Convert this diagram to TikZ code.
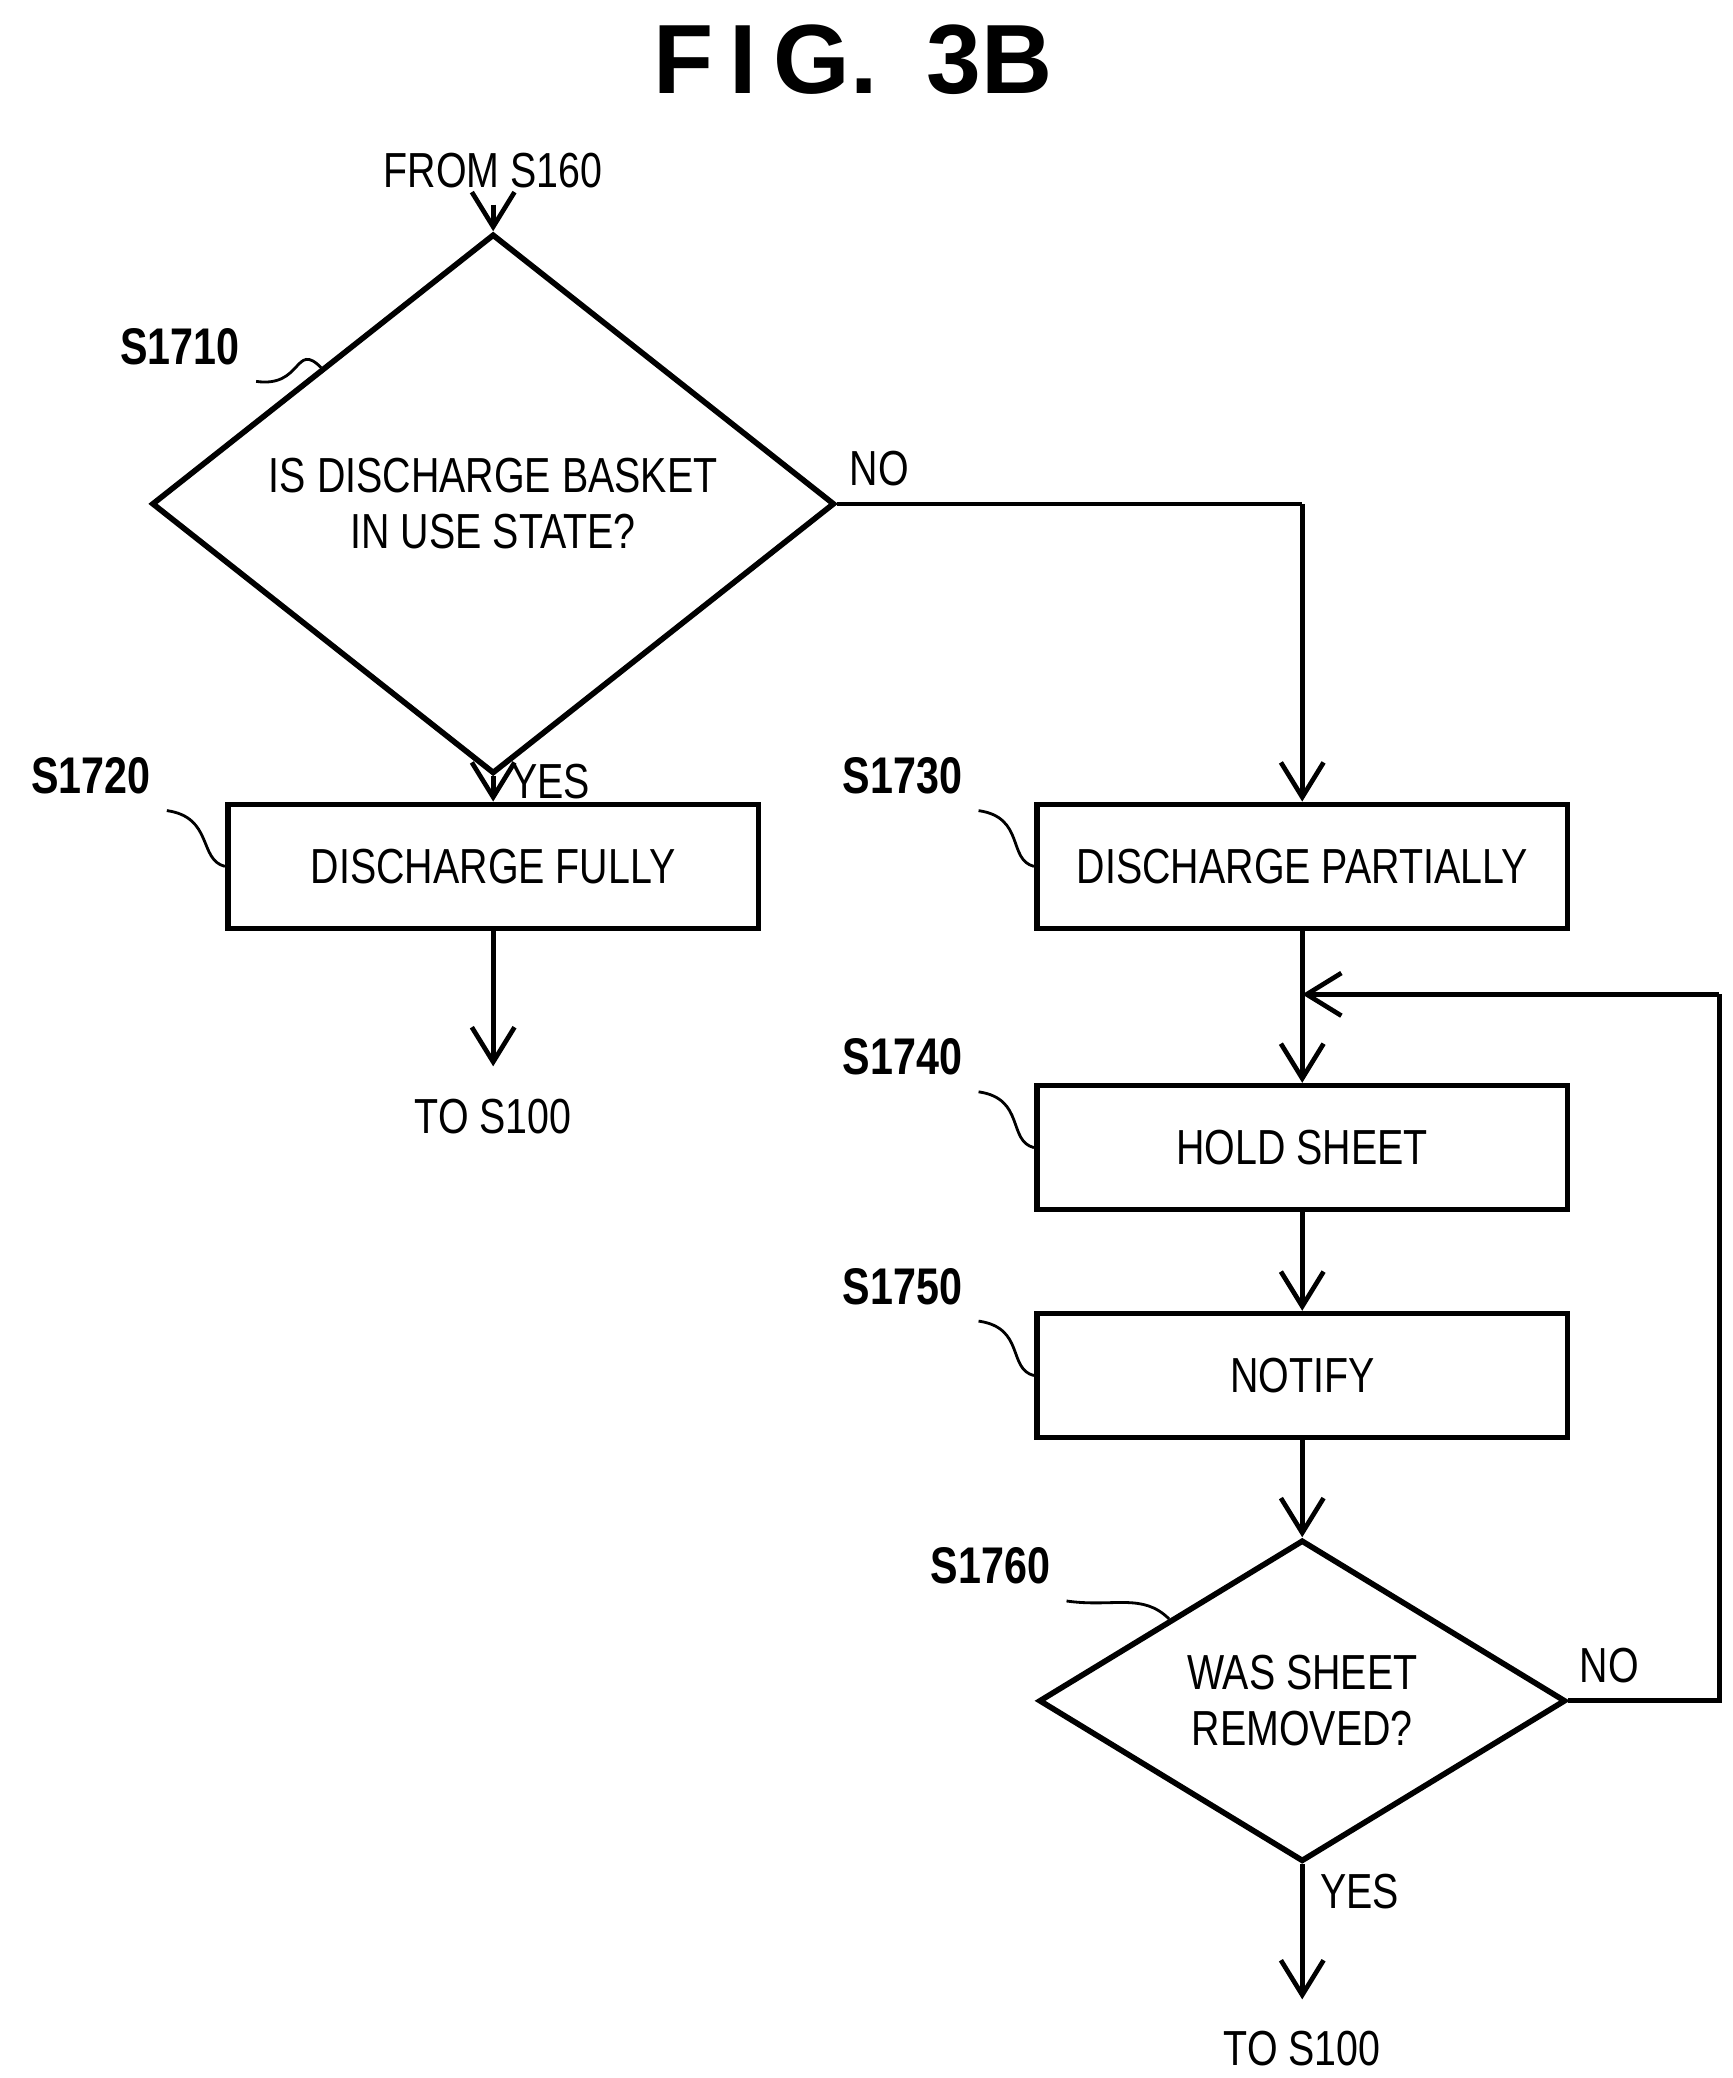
\documentclass[tikz,border=0pt]{standalone}
\usepackage{fontspec}
\setmainfont{Liberation Sans}[FakeStretch=0.8]
\newfontfamily\titlefont{Liberation Sans}
\usetikzlibrary{shapes.geometric,arrows.meta,positioning}
\tikzset{
  block/.style={rectangle, draw, line width=1.2pt, minimum width=3.98cm, minimum height=0.93cm, font=\fontsize{10.5}{12}\selectfont},
  decision/.style={diamond, draw, line width=1.2pt, inner sep=0pt, align=center, font=\fontsize{10.5}{12}\selectfont},
  line/.style={draw, line width=1pt, -{Straight Barb[length=2.6mm,width=3.2mm]}},
  plain/.style={draw, line width=1pt},
  steplabel/.style={font=\bfseries\fontsize{11}{12}\selectfont},
  txt/.style={font=\fontsize{10.5}{12}\selectfont},
  squig/.style={draw, line width=0.6pt}
}
\begin{document}
\begin{tikzpicture}[x=0.01cm, y=-0.01cm]
    \useasboundingbox (0,0) rectangle (1300,1559);
    \node [font=\titlefont\bfseries\fontsize{21}{24}\selectfont] (title) at (640,45) {F\,I\,G.\enspace 3B};
    \node [txt] (from) at (370,128) {FROM S160};
    \node [decision, minimum width=5.12cm, minimum height=2.34cm] (basket) at (370,378) {IS DISCHARGE BASKET\\IN USE STATE?};
    \node [block] (fully) at (370,650) {DISCHARGE FULLY};
    \node [txt] (to1) at (370,838) {TO S100};
    \node [block] (partial) at (977,650) {DISCHARGE PARTIALLY};
    \node [block] (hold) at (977,861) {HOLD SHEET};
    \node [block] (notify) at (977,1032) {NOTIFY};
    \node [decision, minimum width=3.95cm, minimum height=2.35cm] (removed) at (977,1276) {WAS SHEET\\REMOVED?};
    \node [txt] (to2) at (977,1537) {TO S100};
    \coordinate (corner) at (977,378);
    \coordinate (loopa) at (1290,1276);
    \coordinate (loopb) at (1290,746);
    \coordinate (merge) at (977,746);
    \coordinate (end1) at (370,800);
    \coordinate (end2) at (977,1500);
    % step labels
    \node [steplabel] (s1710) at (135,260) {S1710};
    \node [steplabel] (s1720) at (68,582) {S1720};
    \node [steplabel] (s1730) at (677,582) {S1730};
    \node [steplabel] (s1740) at (677,793) {S1740};
    \node [steplabel] (s1750) at (677,965) {S1750};
    \node [steplabel] (s1760) at (743,1175) {S1760};
    \path [squig] (s1710.south east) .. controls +(35,5) and +(-20,-20) .. (basket.north west);
    \path [squig] (s1720.south east) .. controls +(35,5) and +(-20,-5) .. (fully.west);
    \path [squig] (s1730.south east) .. controls +(35,5) and +(-20,-5) .. (partial.west);
    \path [squig] (s1740.south east) .. controls +(35,5) and +(-20,-5) .. (hold.west);
    \path [squig] (s1750.south east) .. controls +(35,5) and +(-20,-5) .. (notify.west);
    \path [squig] (s1760.south east) .. controls +(35,5) and +(-20,-20) .. (removed.north west);
    % connectors
    \path [line] (from) -- (basket.north);
    \path [line] (basket.south) -- node [txt, right, pos=0.2] {YES} (fully.north);
    \path [line] (fully.south) -- (end1);
    \path [plain] (basket.east) -- node [txt, above, pos=0.09] {NO} (corner);
    \path [line] (corner) -- (partial.north);
    \path [line] (partial.south) -- (hold.north);
    \path [line] (hold.south) -- (notify.north);
    \path [line] (notify.south) -- (removed.north);
    \path [line] (removed.south) -- node [txt, right, pos=0.2] {YES} (end2);
    \path [plain] (removed.east) -- node [txt, above, pos=0.27] {NO} (loopa) -- (loopb);
    \path [line] (loopb) -- (merge);
\end{tikzpicture}
\end{document}
